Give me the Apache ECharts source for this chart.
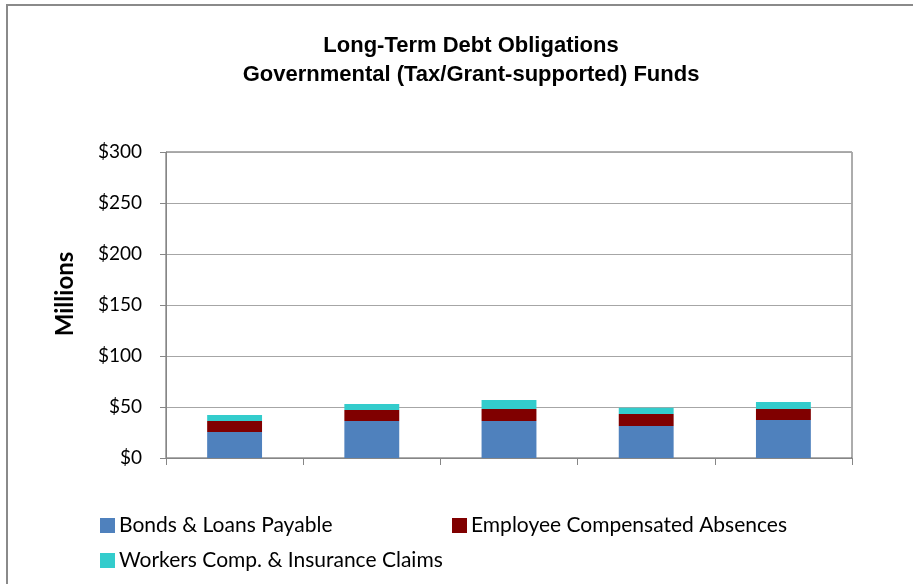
<!DOCTYPE html>
<html>
<head>
<meta charset="utf-8">
<script src="https://cdn.jsdelivr.net/npm/echarts@6/dist/echarts.min.js"></script>
<style>
  html, body { margin: 0; padding: 0; background: #fff; }
  #chart { width: 913px; height: 584px; }
</style>
</head>
<body>
<div id="chart"></div>
<script>
// Five reporting periods (unlabelled on the axis)
const categories = ['', '', '', '', ''];

// Amounts in millions of dollars, stacked per period
const bondsLoans = [25.5, 36.3, 36.3, 31.4, 37.3];
const employeeAbsences = [10.8, 10.8, 11.7, 11.7, 10.7];
const workersComp = [5.9, 5.8, 8.9, 6.2, 6.9];

const seriesNames = [
  'Bonds & Loans Payable',
  'Employee Compensated Absences',
  'Workers Comp. & Insurance Claims'
];
const seriesColors = ['#4F81BD', '#800000', '#33CCCC'];

const yTicks = { min: 0, max: 300, interval: 50 };

const bodyFont = 'Lato, "Open Sans", sans-serif';

const chart = echarts.init(document.getElementById('chart'));

function legendFor(name, left, top) {
  return {
    data: [name],
    left: left,
    top: top,
    orient: 'horizontal',
    icon: 'rect',
    itemWidth: 15,
    itemHeight: 15,
    itemGap: 5,
    selectedMode: false,
    textStyle: { fontFamily: bodyFont, fontSize: 21, color: '#000', padding: [0, 0, 0, -1] }
  };
}

const option = {
  animation: false,
  backgroundColor: '#fff',
  title: {
    text: 'Long-Term Debt Obligations\nGovernmental (Tax/Grant-supported) Funds',
    left: 466,
    textAlign: 'center',
    top: 26,
    textStyle: {
      fontFamily: '"Liberation Sans", Arial, sans-serif',
      fontWeight: 'bold',
      fontSize: 22,
      lineHeight: 29,
      color: '#000'
    }
  },
  graphic: [{
    type: 'rect',
    shape: { x: 7, y: 5, width: 920, height: 600 },
    style: { fill: 'none', stroke: '#8a8a8a', lineWidth: 2 },
    silent: true
  }, {
    // vertical axis title
    type: 'text',
    x: 65,
    y: 294,
    rotation: Math.PI / 2,
    style: {
      text: 'Millions',
      fill: '#000',
      font: 'bold 24px Lato, "Open Sans", sans-serif',
      align: 'center',
      verticalAlign: 'middle'
    },
    silent: true
  }],
  legend: [
    legendFor(seriesNames[0], 95, 510),
    legendFor(seriesNames[1], 447, 510),
    legendFor(seriesNames[2], 95, 545)
  ],
  grid: {
    left: 166,
    right: 61,
    top: 152,
    bottom: 126,
    show: true,
    borderColor: '#5a5a5a',
    borderWidth: 1,
    containLabel: false
  },
  xAxis: {
    type: 'category',
    data: categories,
    boundaryGap: true,
    axisLine: { lineStyle: { color: '#868686', width: 1 } },
    axisTick: { show: true, alignWithLabel: false, length: 7, lineStyle: { color: '#868686' } },
    axisLabel: { show: false }
  },
  yAxis: {
    type: 'value',
    min: yTicks.min,
    max: yTicks.max,
    interval: yTicks.interval,
    axisLine: { show: true, lineStyle: { color: '#868686', width: 1 } },
    axisTick: { show: true, inside: false, length: 6, lineStyle: { color: '#868686' } },
    splitLine: { show: true, lineStyle: { color: '#a6a6a6', width: 1 } },
    axisLabel: {
      fontFamily: bodyFont,
      fontSize: 19,
      color: '#000',
      margin: 24,
      formatter: v => '$' + v
    }
  },
  series: [
    { name: seriesNames[0], type: 'bar', stack: 'debt', data: bondsLoans, barWidth: '40%',
      itemStyle: { color: seriesColors[0] } },
    { name: seriesNames[1], type: 'bar', stack: 'debt', data: employeeAbsences, barWidth: '40%',
      itemStyle: { color: seriesColors[1] } },
    { name: seriesNames[2], type: 'bar', stack: 'debt', data: workersComp, barWidth: '40%',
      itemStyle: { color: seriesColors[2] } }
  ]
};

chart.setOption(option);
</script>
</body>
</html>
